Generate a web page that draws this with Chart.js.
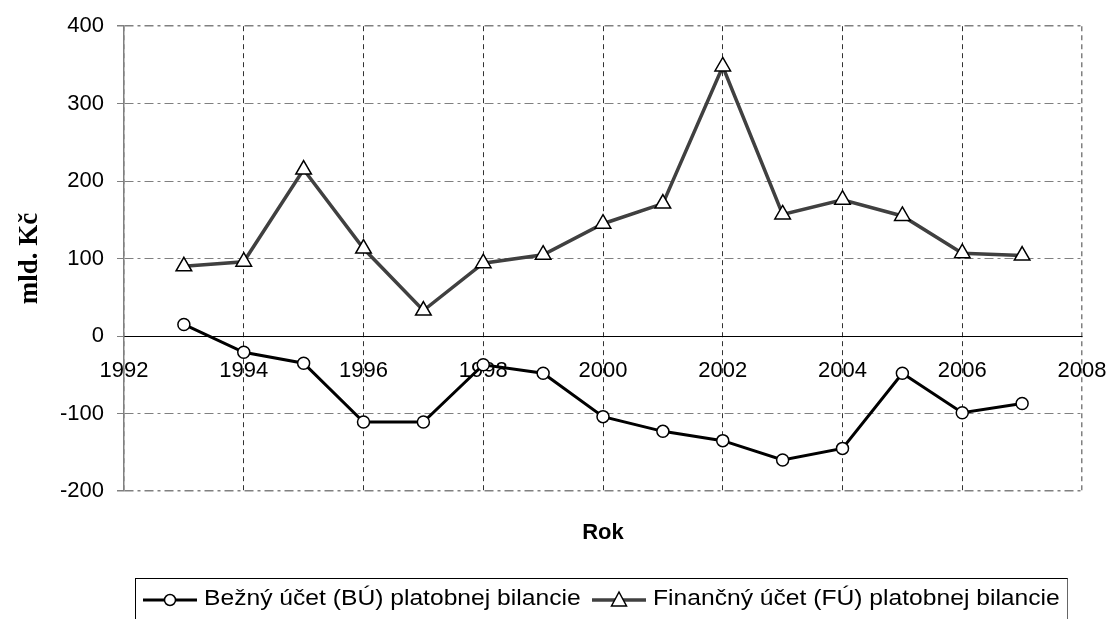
<!DOCTYPE html>
<html>
<head>
<meta charset="utf-8">
<script src="https://cdn.jsdelivr.net/npm/chart.js@4"></script>
<style>
  html, body { margin: 0; padding: 0; background: #fff; }
  #wrap { position: relative; width: 1116px; height: 619px; overflow: hidden; }
  #legend {
    position: absolute; left: 135px; top: 578px; width: 933px; height: 60px;
    border: 1px solid #000; border-right-color: #666; box-sizing: border-box;
    font: 22px 'Liberation Sans', Arial, sans-serif; color: #000;
  }
  .item { position: absolute; top: 7px; display: flex; align-items: center; line-height: 24px; white-space: nowrap; }
  .item svg { margin-right: 7px; }
  .item span { display: inline-block; transform: scaleX(1.12); transform-origin: left center; }
</style>
</head>
<body>
<div id="wrap">
  <canvas id="chart" width="1116" height="619"></canvas>
  <div id="legend">
    <div class="item" style="left:7px">
      <svg width="54" height="24"><line x1="0" y1="14" x2="54" y2="14" stroke="#000" stroke-width="3"/><circle cx="27" cy="14" r="5.5" fill="#fff" stroke="#000" stroke-width="1.5"/></svg>
      <span>Bežný účet (BÚ) platobnej bilancie</span>
    </div>
    <div class="item" style="left:456px">
      <svg width="54" height="24"><line x1="0" y1="14" x2="54" y2="14" stroke="#404040" stroke-width="3.5"/><polygon points="27,6 19.5,20 34.5,20" fill="#fff" stroke="#000" stroke-width="1.5"/></svg>
      <span>Finančný účet (FÚ) platobnej bilancie</span>
    </div>
  </div>
</div>
<script>
// ── Data ──
const years    = [1993, 1994, 1995, 1996, 1997, 1998, 1999, 2000, 2001, 2002, 2003, 2004, 2005, 2006, 2007];
const bezny    = [15, -21, -35, -111, -111, -37, -48, -104, -123, -135, -160, -145, -48, -99, -87];
const financny = [90, 96, 215, 113, 33, 94, 105, 145, 171, 348, 157, 176, 155, 107, 104];
const xRange   = [1992, 2008];
const yRange   = [-200, 400];
const xStep = 2, yStep = 100;

const FONT = "'Liberation Sans', Arial, sans-serif";

// ── Axis titles (x title sits under the plot, not at the y=0 axis) ──
const axisTitles = {
  id: 'axisTitles',
  afterDraw(chart) {
    const { ctx, chartArea } = chart;
    ctx.save();
    ctx.fillStyle = '#000';
    ctx.textAlign = 'center';
    ctx.textBaseline = 'middle';
    ctx.font = 'bold 22px ' + FONT;
    ctx.fillText('Rok', (chartArea.left + chartArea.right) / 2, 533);
    ctx.translate(30, (chartArea.top + chartArea.bottom) / 2);
    ctx.rotate(-Math.PI / 2);
    ctx.font = "bold 27px 'Liberation Serif', 'Times New Roman', serif";
    ctx.fillText('mld. Kč', 0, 0);
    ctx.restore();
  }
};

const isEdgeX = c => c.tick && (c.tick.value === xRange[0] || c.tick.value === xRange[1]);
const isEdgeY = c => c.tick && (c.tick.value === yRange[0] || c.tick.value === yRange[1]);

new Chart(document.getElementById('chart'), {
  type: 'line',
  data: {
    datasets: [
      {
        label: 'Bežný účet (BÚ) platobnej bilancie',
        data: years.map((yr, i) => ({ x: yr, y: bezny[i] })),
        borderColor: '#000',
        borderWidth: 3,
        pointStyle: 'circle',
        pointRadius: 6,
        pointBackgroundColor: '#fff',
        pointBorderColor: '#000',
        pointBorderWidth: 1.5,
        tension: 0
      },
      {
        label: 'Finančný účet (FÚ) platobnej bilancie',
        data: years.map((yr, i) => ({ x: yr, y: financny[i] })),
        borderColor: '#404040',
        borderWidth: 3.5,
        pointStyle: 'triangle',
        pointRadius: 9,
        pointBackgroundColor: '#fff',
        pointBorderColor: '#000',
        pointBorderWidth: 1.5,
        tension: 0
      }
    ]
  },
  options: {
    responsive: false,
    animation: false,
    layout: { padding: { left: 0, right: 34, top: 24, bottom: 128 } },
    plugins: { legend: { display: false }, tooltip: { enabled: false } },
    scales: {
      x: {
        type: 'linear',
        position: { y: 0 },
        min: xRange[0], max: xRange[1],
        afterFit: s => { s.paddingLeft = 0; s.paddingRight = 0; },
        ticks: {
          stepSize: xStep,
          padding: 22,
          color: '#000',
          font: { family: FONT, size: 22 },
          callback: v => String(v)
        },
        grid: {
          drawTicks: false,
          color: c => isEdgeX(c) ? '#808080' : '#333',
          lineWidth: c => isEdgeX(c) ? 1.5 : 1
        },
        border: { display: true, color: '#000', width: 1, dash: c => c.tick ? [5, 4] : [] }
      },
      y: {
        min: yRange[0], max: yRange[1],
        afterFit: s => { s.width = 124; },
        ticks: {
          stepSize: yStep,
          padding: 13,
          color: '#000',
          font: { family: FONT, size: 22 }
        },
        grid: {
          tickLength: 7,
          tickColor: '#808080',
          color: c => (c.tick && c.tick.value === 0) ? '#000' : '#808080',
          lineWidth: c => isEdgeY(c) ? 1.5 : 1
        },
        border: {
          color: '#808080', width: 1.5,
          dash: c => c.tick ? (c.tick.value === 0 ? [] : [9, 4, 3, 4]) : [6, 3]
        }
      }
    }
  },
  plugins: [axisTitles]
});
</script>
</body>
</html>
